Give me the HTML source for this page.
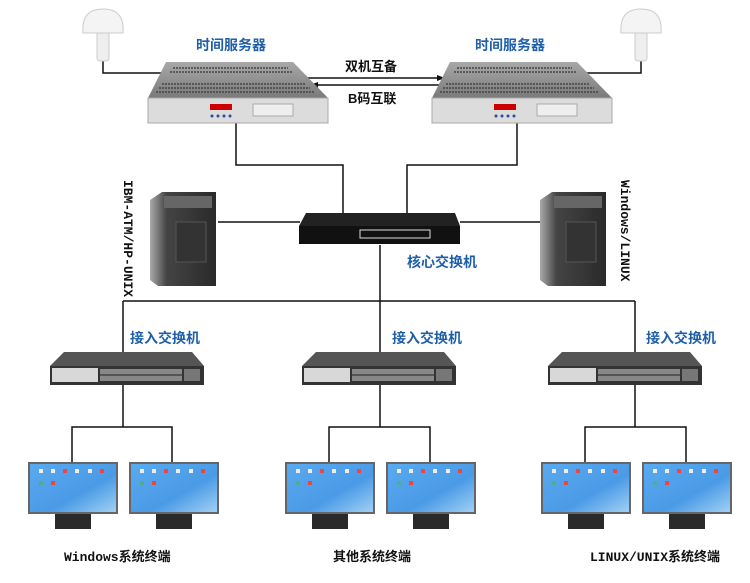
<!DOCTYPE html>
<html><head><meta charset="utf-8"><style>
body{margin:0;background:#fff;}
svg text{font-family:"Liberation Sans","Noto Sans CJK SC",sans-serif;font-weight:bold;}
.blue{fill:#1f5fa8;font-size:14px;}
.blk{fill:#111;font-size:13px;}
.mono{font-family:"Liberation Mono","Noto Sans CJK SC",monospace !important;fill:#111;font-size:13px;}
</style></head><body>
<svg width="750" height="578" viewBox="0 0 750 578" xmlns="http://www.w3.org/2000/svg">
<defs>
<linearGradient id="scr" x1="0" y1="0" x2="1" y2="1"><stop offset="0" stop-color="#5aaaf0"/><stop offset="0.6" stop-color="#4a9ae6"/><stop offset="1" stop-color="#a0d0f4"/></linearGradient>
<linearGradient id="srv" x1="0" y1="0" x2="0" y2="1"><stop offset="0" stop-color="#a8a8a8"/><stop offset="1" stop-color="#7a7a7a"/></linearGradient>
<linearGradient id="tw" x1="0" y1="0" x2="1" y2="0"><stop offset="0" stop-color="#aaa"/><stop offset="0.25" stop-color="#444"/><stop offset="1" stop-color="#2a2a2a"/></linearGradient>
<g id="server">
 <polygon points="18,0 145,0 180,36 0,36" fill="url(#srv)"/>
 <g stroke="#444" stroke-width="1.5" stroke-dasharray="2,1">
  <line x1="25" y1="6" x2="140" y2="6"/><line x1="22" y1="10" x2="144" y2="10"/>
  <line x1="14" y1="22" x2="158" y2="22"/><line x1="11" y1="26" x2="162" y2="26"/><line x1="8" y1="30" x2="166" y2="30"/>
 </g>
 <rect x="0" y="36" width="180" height="25" fill="#dcdcdc" stroke="#aaa"/>
 <rect x="62" y="42" width="22" height="6" fill="#c00"/>
 <rect x="105" y="42" width="40" height="12" fill="#eee" stroke="#aaa"/>
 <g fill="#2a4a9a"><circle cx="64" cy="54" r="1.5"/><circle cx="70" cy="54" r="1.5"/><circle cx="76" cy="54" r="1.5"/><circle cx="82" cy="54" r="1.5"/></g>
</g>
<g id="gps">
 <rect x="-6" y="18" width="12" height="34" rx="3" fill="#eee" stroke="#ccc"/>
 <path d="M-20,24 Q-22,0 0,0 Q22,0 20,24 Z" fill="#f4f4f4" stroke="#ccc"/>
</g>
<g id="tower">
 <polygon points="0,8 12,0 66,0 66,94 8,94 0,88" fill="url(#tw)"/>
 <rect x="14" y="4" width="48" height="12" fill="#666"/>
 <rect x="26" y="30" width="30" height="40" fill="#333" stroke="#555"/>
</g>
<g id="asw">
 <polygon points="14,0 142,0 154,14 0,14" fill="#555"/>
 <rect x="0" y="14" width="154" height="19" fill="#333"/>
 <rect x="2" y="16" width="46" height="14" fill="#d8d8d8"/>
 <rect x="50" y="17" width="82" height="12" fill="#888"/>
 <g stroke="#222" stroke-width="1"><line x1="50" y1="23" x2="132" y2="23"/></g>
 <rect x="134" y="17" width="16" height="12" fill="#777"/>
</g>
<g id="mon">
 <rect x="0" y="0" width="90" height="52" fill="#666"/>
 <rect x="2" y="2" width="86" height="48" fill="url(#scr)"/>
 <g fill="#eee"><rect x="11" y="7" width="4" height="4"/><rect x="23" y="7" width="4" height="4"/><rect x="35" y="7" width="4" height="4" fill="#e44"/><rect x="47" y="7" width="4" height="4"/><rect x="60" y="7" width="4" height="4"/><rect x="72" y="7" width="4" height="4" fill="#e44"/><rect x="11" y="19" width="4" height="4" fill="#5a8"/><rect x="23" y="19" width="4" height="4" fill="#e44"/></g>
 <rect x="27" y="52" width="36" height="15" fill="#2a2a2a"/>
</g>
</defs>

<g stroke="#111" stroke-width="1.5" fill="none">
 <polyline points="103,60 103,73 172,73"/>
 <polyline points="641,60 641,73 578,73"/>
 <polyline points="236,123 236,165 343,165 343,213"/>
 <polyline points="517,123 517,165 407,165 407,213"/>
 <line x1="218" y1="222" x2="300" y2="222"/>
 <line x1="460" y1="222" x2="543" y2="222"/>
 <line x1="380" y1="245" x2="380" y2="301"/>
 <line x1="123" y1="301" x2="635" y2="301"/>
 <line x1="123" y1="301" x2="123" y2="352"/>
 <line x1="380" y1="301" x2="380" y2="352"/>
 <line x1="635" y1="301" x2="635" y2="352"/>
 <polyline points="123,385 123,427"/><polyline points="72,462 72,427 172,427 172,462"/>
 <polyline points="380,385 380,427"/><polyline points="329,462 329,427 430,427 430,462"/>
 <polyline points="635,385 635,427"/><polyline points="585,462 585,427 686,427 686,462"/>
</g>
<line x1="307" y1="78" x2="445" y2="78" stroke="#111" stroke-width="1.5"/>
<polygon points="445,78 437,75 437,81" fill="#111"/>
<line x1="310" y1="85" x2="440" y2="85" stroke="#111" stroke-width="1.5"/>
<polygon points="310,85 318,82 318,88" fill="#111"/>

<use href="#gps" x="103" y="9"/>
<use href="#gps" x="641" y="9"/>
<use href="#server" x="148" y="62"/>
<use href="#server" x="432" y="62"/>
<text class="blue" x="196" y="50">时间服务器</text>
<text class="blue" x="475" y="50">时间服务器</text>
<text class="blk" x="345" y="71">双机互备</text>
<text class="blk" x="348" y="103">B码互联</text>

<use href="#tower" x="150" y="192"/>
<use href="#tower" x="540" y="192"/>
<text class="mono" transform="translate(124,180) rotate(90)">IBM-ATM/HP-UNIX</text>
<text class="mono" transform="translate(621,180) rotate(90)">Windows/LINUX</text>

<polygon points="306,213 455,213 460,226 299,226" fill="#222"/>
<rect x="299" y="226" width="161" height="18" fill="#111"/>
<rect x="360" y="230" width="70" height="8" fill="none" stroke="#ddd" stroke-width="1"/>
<text class="blue" x="407" y="267">核心交换机</text>

<use href="#asw" x="50" y="352"/>
<use href="#asw" x="302" y="352"/>
<use href="#asw" x="548" y="352"/>
<text class="blue" x="130" y="343">接入交换机</text>
<text class="blue" x="392" y="343">接入交换机</text>
<text class="blue" x="646" y="343">接入交换机</text>

<use href="#mon" x="28" y="462"/><use href="#mon" x="129" y="462"/>
<use href="#mon" x="285" y="462"/><use href="#mon" x="386" y="462"/>
<use href="#mon" x="541" y="462"/><use href="#mon" x="642" y="462"/>

<text class="mono" x="64" y="561">Windows系统终端</text>
<text class="mono" x="333" y="561">其他系统终端</text>
<text class="mono" x="590" y="561">LINUX/UNIX系统终端</text>
</svg>
</body></html>
